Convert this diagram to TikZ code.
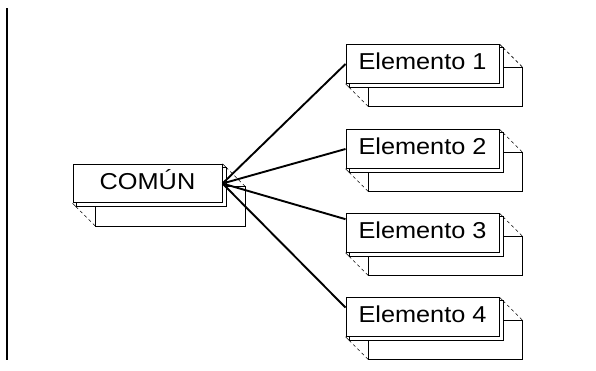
\documentclass[tikz,border=0pt]{standalone}
\usepackage{fontspec}
\newfontfamily\boxfont[FakeStretch=1.1]{Liberation Sans}
\usetikzlibrary{calc,backgrounds}

\begin{document}
\begin{tikzpicture}[x=1pt,y=-1pt,
    frontbox/.style={draw, fill=white, line width=1pt, inner sep=0pt,
        minimum height=38.5pt, text height=16pt, text depth=5pt,
        font=\boxfont\fontsize{23}{26}\selectfont},
    link/.style={line width=1.9pt}]

    % --- 1. 変数定義 ---
    \pgfmathsetmacro{\dx}{3.5}
    \pgfmathsetmacro{\dd}{23}

    \useasboundingbox (0,0) rectangle (596,370);

    % --- 2. 左の縦線 ---
    \draw[line width=1.7pt] (7,8) -- (7,360);

    % --- 3. 箱 ---
    \node[frontbox, minimum width=149pt] (comun) at (147.5,183.5) {COMÚN};
    \foreach \i/\yc in {1/64,2/149,3/233,4/317} {
        \node[frontbox, minimum width=153pt] (e\i) at (422.5,\yc) {Elemento \i};
    }

    % --- 4. 奥の箱と破線 (背景) ---
    \begin{scope}[on background layer]
        \foreach \n in {comun,e1,e2,e3,e4} {
            \draw[line width=0.7pt] ($(\n.north west)+(\dd,\dd)$) rectangle ($(\n.south east)+(\dd,\dd)$);
            \draw[line width=0.7pt, dashed] ($(\n.south west)+(\dx,\dx)$) -- ($(\n.south west)+(\dd,\dd)$);
            \draw[line width=0.7pt, dashed] ($(\n.north east)+(\dx,\dx)$) -- ($(\n.north east)+(\dd,\dd)$);
            \draw[line width=0.7pt, fill=white] ($(\n.north west)+(\dx,\dx)$) rectangle ($(\n.south east)+(\dx,\dx)$);
            \draw[line width=0.7pt] (\n.north east) -- ++(\dx,\dx);
            \draw[line width=0.7pt] (\n.south west) -- ++(\dx,\dx);
        }
    \end{scope}

    % --- 5. 線 ---
    \draw[link] (comun.east) -- (e1.west);
    \draw[link] (comun.east) -- (e2.west);
    \draw[link] (comun.east) -- ($(e3.north west)!.15!(e3.south west)$);
    \draw[link] (comun.east) -- ($(e4.north west)!.26!(e4.south west)$);

\end{tikzpicture}
\end{document}
